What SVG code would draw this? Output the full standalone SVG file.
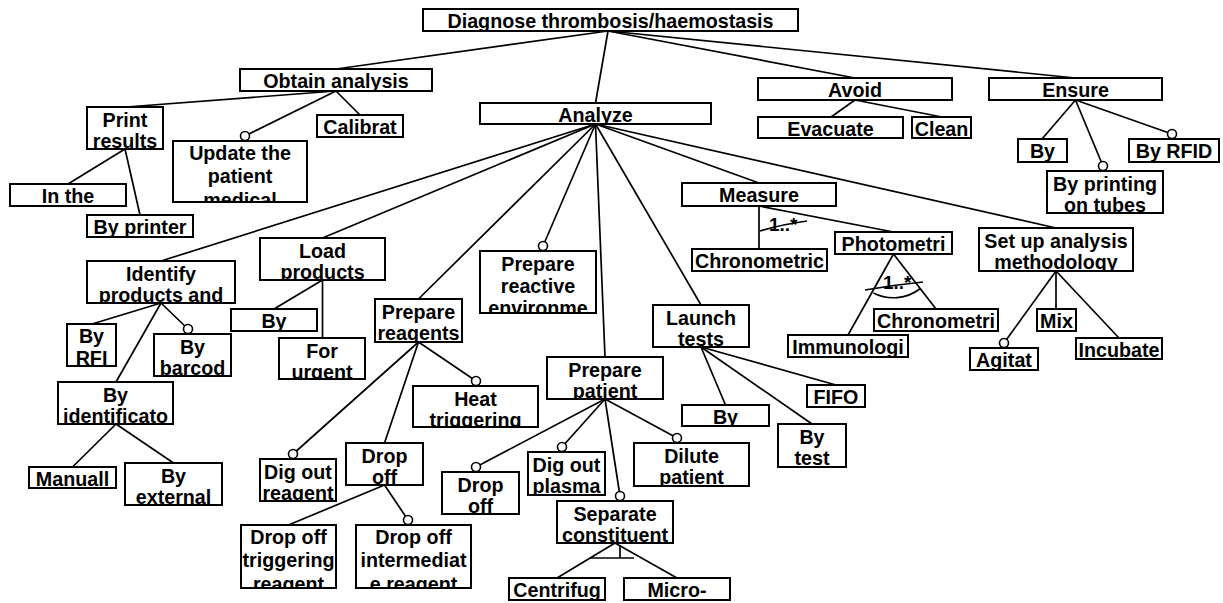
<svg xmlns="http://www.w3.org/2000/svg" width="1223" height="603" viewBox="0 0 1223 603">
  <style>
    .box { fill: #fff; stroke: #000; stroke-width: 2; }
    .lbl { font-family: "Liberation Sans", Arial, sans-serif; font-weight: bold; font-size: 19.7px; text-anchor: middle; fill: #000; }
    .card { font-family: "Liberation Sans", Arial, sans-serif; font-weight: bold; font-size: 19px; fill: #000; }
    #connectors line, #connectors path { stroke: #000; stroke-width: 1.7; fill: none; }
    .opt { marker-end: url(#opt); }
  </style>
  <defs>
    <!-- optional feature: hollow circle at the child end -->
    <marker id="opt" viewBox="0 0 12 12" refX="6" refY="6" markerWidth="12" markerHeight="12" markerUnits="userSpaceOnUse">
      <circle cx="6" cy="6" r="4.5" fill="#fff" stroke="#000" stroke-width="1.6"/>
    </marker>
  </defs>
  <rect width="1223" height="603" fill="#fff"/>

  <g id="connectors">
    <!-- root -->
    <line x1="608" y1="31" x2="336" y2="69"/>
    <line x1="608" y1="31" x2="595.5" y2="103"/>
    <line x1="608" y1="31" x2="855" y2="78"/>
    <line x1="608" y1="31" x2="1075.5" y2="78"/>
    <!-- Obtain analysis -->
    <line x1="336" y1="91" x2="126" y2="107"/>
    <line class="opt" x1="336" y1="91" x2="245" y2="136"/>
    <line x1="336" y1="91" x2="360" y2="115"/>
    <!-- Print results -->
    <line x1="125" y1="149" x2="68" y2="184"/>
    <line x1="125" y1="149" x2="140" y2="215"/>
    <!-- Avoid -->
    <line x1="855" y1="100" x2="831" y2="117"/>
    <line x1="855" y1="100" x2="942" y2="117"/>
    <!-- Ensure -->
    <line x1="1075.5" y1="100" x2="1042" y2="139"/>
    <line class="opt" x1="1075.5" y1="100" x2="1172" y2="134"/>
    <line class="opt" x1="1075.5" y1="100" x2="1103" y2="166"/>
    <!-- Analyze -->
    <line x1="595.5" y1="124" x2="161" y2="261"/>
    <line x1="595.5" y1="124" x2="322.5" y2="238"/>
    <line x1="595.5" y1="124" x2="418.5" y2="299"/>
    <line class="opt" x1="595.5" y1="124" x2="543" y2="246"/>
    <line x1="595.5" y1="124" x2="605" y2="357"/>
    <line x1="595.5" y1="124" x2="701" y2="305"/>
    <line x1="595.5" y1="124" x2="759" y2="183"/>
    <line x1="595.5" y1="124" x2="1056" y2="228"/>
    <!-- Identify products and -->
    <line x1="161" y1="303" x2="92" y2="324"/>
    <line class="opt" x1="161" y1="303" x2="188" y2="329"/>
    <line x1="161" y1="303" x2="116" y2="382"/>
    <!-- By identificato -->
    <line x1="116" y1="424" x2="72.5" y2="467"/>
    <line x1="116" y1="424" x2="173.5" y2="463"/>
    <!-- Load products -->
    <line x1="322.5" y1="280" x2="274" y2="309"/>
    <line x1="322.5" y1="280" x2="322.5" y2="338"/>
    <!-- Prepare reagents -->
    <line class="opt" x1="418.5" y1="342" x2="476" y2="381"/>
    <line class="opt" x1="418.5" y1="342" x2="293" y2="454"/>
    <line x1="418.5" y1="342" x2="384.5" y2="443"/>
    <!-- Drop off (reagents) -->
    <line x1="384.5" y1="485" x2="288.5" y2="525"/>
    <line class="opt" x1="384.5" y1="485" x2="408" y2="520"/>
    <!-- Prepare patient -->
    <line class="opt" x1="605" y1="399" x2="476" y2="467"/>
    <line class="opt" x1="605" y1="399" x2="562" y2="447"/>
    <line class="opt" x1="605" y1="399" x2="677" y2="438"/>
    <line class="opt" x1="605" y1="399" x2="620" y2="496"/>
    <!-- Separate constituent -->
    <line x1="615" y1="543" x2="557" y2="578"/>
    <line x1="615" y1="543" x2="677" y2="578"/>
    <line x1="590" y1="558" x2="634" y2="558"/>
    <line x1="620" y1="545" x2="620" y2="558"/>
    <!-- Launch tests -->
    <line x1="701" y1="347" x2="725.5" y2="405"/>
    <line x1="701" y1="347" x2="812" y2="424"/>
    <line x1="701" y1="347" x2="836" y2="385"/>
    <!-- Measure -->
    <line x1="759" y1="206" x2="759" y2="249"/>
    <line x1="759" y1="206" x2="893.5" y2="232"/>
    <path d="M760,231 Q784,224 807,221"/>
    <text class="card" x="769" y="231">1..*</text>
    <!-- Photometri -->
    <line x1="893.5" y1="254" x2="848" y2="335"/>
    <line x1="893.5" y1="254" x2="936" y2="309"/>
    <path d="M873.4,292.9 A44,44 0 0 0 920.1,288.7"/>
    <path d="M865,290 Q894,285 923,282"/>
    <text class="card" x="883" y="289">1..*</text>
    <!-- Set up analysis methodology -->
    <line class="opt" x1="1056" y1="271" x2="1004" y2="343"/>
    <line x1="1056" y1="271" x2="1056" y2="309"/>
    <line x1="1056" y1="271" x2="1119" y2="338"/>
  </g>

  <g id="n-root"><rect class="box" x="423" y="9" width="375" height="22"/><svg x="423" y="9" width="375" height="22"><text class="lbl" x="187.5" y="18.5">Diagnose thrombosis/haemostasis</text></svg></g>
  <g id="n-obtain"><rect class="box" x="240" y="69" width="192" height="22"/><svg x="240" y="69" width="192" height="22"><text class="lbl" x="96" y="18.5">Obtain analysis</text></svg></g>
  <g id="n-analyze"><rect class="box" x="480" y="103" width="231" height="21"/><svg x="480" y="103" width="231" height="21"><text class="lbl" x="115.5" y="18.5">Analyze</text></svg></g>
  <g id="n-avoid"><rect class="box" x="758" y="78" width="194" height="22"/><svg x="758" y="78" width="194" height="22"><text class="lbl" x="97" y="18.5">Avoid</text></svg></g>
  <g id="n-ensure"><rect class="box" x="989" y="78" width="173" height="22"/><svg x="989" y="78" width="173" height="22"><text class="lbl" x="86.5" y="18.5">Ensure</text></svg></g>

  <g id="n-print"><rect class="box" x="87" y="107" width="76" height="42"/><svg x="87" y="107" width="76" height="42"><text class="lbl" x="38" y="19.5">Print</text><text class="lbl" x="38" y="41">results</text></svg></g>
  <g id="n-update"><rect class="box" x="173" y="141" width="134" height="61"/><svg x="173" y="141" width="134" height="61"><text class="lbl" x="67" y="18.5">Update the</text><text class="lbl" x="67" y="41.5">patient</text><text class="lbl" x="67" y="65.5">medical</text></svg></g>
  <g id="n-calibrat"><rect class="box" x="317" y="115" width="86" height="22"/><svg x="317" y="115" width="86" height="22"><text class="lbl" x="43" y="18.5">Calibrat</text></svg></g>
  <g id="n-inthe"><rect class="box" x="10" y="184" width="116" height="22"/><svg x="10" y="184" width="116" height="22"><text class="lbl" x="58" y="18.5">In the</text></svg></g>
  <g id="n-byprinter"><rect class="box" x="87" y="215" width="106" height="22"/><svg x="87" y="215" width="106" height="22"><text class="lbl" x="53" y="18.5">By printer</text></svg></g>

  <g id="n-evacuate"><rect class="box" x="758" y="117" width="145" height="21"/><svg x="758" y="117" width="145" height="21"><text class="lbl" x="72.5" y="18.5">Evacuate</text></svg></g>
  <g id="n-clean"><rect class="box" x="912" y="117" width="59" height="21"/><svg x="912" y="117" width="59" height="21"><text class="lbl" x="29.5" y="18.5">Clean</text></svg></g>

  <g id="n-ensure-by"><rect class="box" x="1018" y="139" width="49" height="23"/><svg x="1018" y="139" width="49" height="23"><text class="lbl" x="24.5" y="18.5">By</text></svg></g>
  <g id="n-by-rfid"><rect class="box" x="1129" y="139" width="90" height="23"/><svg x="1129" y="139" width="90" height="23"><text class="lbl" x="45" y="18.5">By RFID</text></svg></g>
  <g id="n-by-printing"><rect class="box" x="1047" y="171" width="116" height="42"/><svg x="1047" y="171" width="116" height="42"><text class="lbl" x="58" y="19.5">By printing</text><text class="lbl" x="58" y="41">on tubes</text></svg></g>

  <g id="n-identify"><rect class="box" x="87" y="261" width="148" height="42"/><svg x="87" y="261" width="148" height="42"><text class="lbl" x="74" y="19.5">Identify</text><text class="lbl" x="74" y="41">products and</text></svg></g>
  <g id="n-load"><rect class="box" x="260" y="238" width="125" height="42"/><svg x="260" y="238" width="125" height="42"><text class="lbl" x="62.5" y="19.5">Load</text><text class="lbl" x="62.5" y="41">products</text></svg></g>
  <g id="n-prep-reagents"><rect class="box" x="375" y="299" width="87" height="43"/><svg x="375" y="299" width="87" height="43"><text class="lbl" x="43.5" y="19.5">Prepare</text><text class="lbl" x="43.5" y="41">reagents</text></svg></g>
  <g id="n-prep-reactive"><rect class="box" x="480" y="251" width="116" height="62"/><svg x="480" y="251" width="116" height="62"><text class="lbl" x="58" y="19.5">Prepare</text><text class="lbl" x="58" y="41.5">reactive</text><text class="lbl" x="58" y="64">environme</text></svg></g>
  <g id="n-prep-patient"><rect class="box" x="547" y="357" width="116" height="42"/><svg x="547" y="357" width="116" height="42"><text class="lbl" x="58" y="19.5">Prepare</text><text class="lbl" x="58" y="41">patient</text></svg></g>
  <g id="n-launch"><rect class="box" x="653" y="305" width="96" height="42"/><svg x="653" y="305" width="96" height="42"><text class="lbl" x="48" y="19.5">Launch</text><text class="lbl" x="48" y="41">tests</text></svg></g>
  <g id="n-measure"><rect class="box" x="682" y="183" width="154" height="23"/><svg x="682" y="183" width="154" height="23"><text class="lbl" x="77" y="18.5">Measure</text></svg></g>
  <g id="n-setup"><rect class="box" x="979" y="228" width="154" height="43"/><svg x="979" y="228" width="154" height="43"><text class="lbl" x="77" y="19.5">Set up analysis</text><text class="lbl" x="77" y="41">methodology</text></svg></g>

  <g id="n-chronometric"><rect class="box" x="692" y="249" width="135" height="22"/><svg x="692" y="249" width="135" height="22"><text class="lbl" x="67.5" y="18.5">Chronometric</text></svg></g>
  <g id="n-photometri"><rect class="box" x="835" y="232" width="117" height="22"/><svg x="835" y="232" width="117" height="22"><text class="lbl" x="58.5" y="18.5">Photometri</text></svg></g>
  <g id="n-immunologi"><rect class="box" x="788" y="335" width="120" height="22"/><svg x="788" y="335" width="120" height="22"><text class="lbl" x="60" y="18.5">Immunologi</text></svg></g>
  <g id="n-chronometri"><rect class="box" x="874" y="309" width="124" height="22"/><svg x="874" y="309" width="124" height="22"><text class="lbl" x="62" y="18.5">Chronometri</text></svg></g>

  <g id="n-agitat"><rect class="box" x="970" y="348" width="68" height="22"/><svg x="970" y="348" width="68" height="22"><text class="lbl" x="34" y="18.5">Agitat</text></svg></g>
  <g id="n-mix"><rect class="box" x="1037" y="309" width="39" height="22"/><svg x="1037" y="309" width="39" height="22"><text class="lbl" x="19.5" y="18.5">Mix</text></svg></g>
  <g id="n-incubate"><rect class="box" x="1076" y="338" width="86" height="21"/><svg x="1076" y="338" width="86" height="21"><text class="lbl" x="43" y="18.5">Incubate</text></svg></g>

  <g id="n-by-rfi"><rect class="box" x="67" y="324" width="49" height="42"/><svg x="67" y="324" width="49" height="42"><text class="lbl" x="24.5" y="19">By</text><text class="lbl" x="24.5" y="41">RFI</text></svg></g>
  <g id="n-by-barcod"><rect class="box" x="154" y="334" width="77" height="42"/><svg x="154" y="334" width="77" height="42"><text class="lbl" x="38.5" y="19.5">By</text><text class="lbl" x="38.5" y="41">barcod</text></svg></g>
  <g id="n-by-ident"><rect class="box" x="58" y="382" width="115" height="42"/><svg x="58" y="382" width="115" height="42"><text class="lbl" x="57.5" y="19.5">By</text><text class="lbl" x="57.5" y="41">identificato</text></svg></g>
  <g id="n-manuall"><rect class="box" x="29" y="467" width="87" height="21"/><svg x="29" y="467" width="87" height="21"><text class="lbl" x="43.5" y="18.5">Manuall</text></svg></g>
  <g id="n-by-external"><rect class="box" x="125" y="463" width="97" height="42"/><svg x="125" y="463" width="97" height="42"><text class="lbl" x="48.5" y="19.5">By</text><text class="lbl" x="48.5" y="41">external</text></svg></g>

  <g id="n-load-by"><rect class="box" x="231" y="309" width="86" height="22"/><svg x="231" y="309" width="86" height="22"><text class="lbl" x="43" y="18.5">By</text></svg></g>
  <g id="n-for-urgent"><rect class="box" x="279" y="338" width="86" height="41"/><svg x="279" y="338" width="86" height="41"><text class="lbl" x="43" y="19.5">For</text><text class="lbl" x="43" y="41">urgent</text></svg></g>

  <g id="n-heat"><rect class="box" x="413" y="386" width="125" height="41"/><svg x="413" y="386" width="125" height="41"><text class="lbl" x="62.5" y="19.5">Heat</text><text class="lbl" x="62.5" y="41">triggering</text></svg></g>
  <g id="n-dig-reagent"><rect class="box" x="260" y="459" width="76" height="42"/><svg x="260" y="459" width="76" height="42"><text class="lbl" x="38" y="19.5">Dig out</text><text class="lbl" x="38" y="41">reagent</text></svg></g>
  <g id="n-drop-off-1"><rect class="box" x="346" y="443" width="77" height="42"/><svg x="346" y="443" width="77" height="42"><text class="lbl" x="38.5" y="19.5">Drop</text><text class="lbl" x="38.5" y="41">off</text></svg></g>
  <g id="n-drop-trig"><rect class="box" x="241" y="525" width="95" height="63"/><svg x="241" y="525" width="95" height="63"><text class="lbl" x="47.5" y="19">Drop off</text><text class="lbl" x="47.5" y="42">triggering</text><text class="lbl" x="47.5" y="65.5">reagent</text></svg></g>
  <g id="n-drop-inter"><rect class="box" x="356" y="525" width="115" height="63"/><svg x="356" y="525" width="115" height="63"><text class="lbl" x="57.5" y="19">Drop off</text><text class="lbl" x="57.5" y="42">intermediat</text><text class="lbl" x="57.5" y="65.5">e reagent</text></svg></g>

  <g id="n-drop-off-2"><rect class="box" x="442" y="472" width="77" height="42"/><svg x="442" y="472" width="77" height="42"><text class="lbl" x="38.5" y="19.5">Drop</text><text class="lbl" x="38.5" y="41">off</text></svg></g>
  <g id="n-dig-plasma"><rect class="box" x="528" y="452" width="77" height="43"/><svg x="528" y="452" width="77" height="43"><text class="lbl" x="38.5" y="19.5">Dig out</text><text class="lbl" x="38.5" y="41">plasma</text></svg></g>
  <g id="n-dilute"><rect class="box" x="634" y="443" width="115" height="43"/><svg x="634" y="443" width="115" height="43"><text class="lbl" x="57.5" y="19.5">Dilute</text><text class="lbl" x="57.5" y="41">patient</text></svg></g>
  <g id="n-separate"><rect class="box" x="557" y="501" width="116" height="42"/><svg x="557" y="501" width="116" height="42"><text class="lbl" x="58" y="19.5">Separate</text><text class="lbl" x="58" y="41">constituent</text></svg></g>
  <g id="n-centrifug"><rect class="box" x="509" y="578" width="96" height="22"/><svg x="509" y="578" width="96" height="22"><text class="lbl" x="48" y="18.5">Centrifug</text></svg></g>
  <g id="n-micro"><rect class="box" x="624" y="578" width="106" height="22"/><svg x="624" y="578" width="106" height="22"><text class="lbl" x="53" y="18.5">Micro-</text></svg></g>

  <g id="n-launch-by"><rect class="box" x="682" y="405" width="87" height="21"/><svg x="682" y="405" width="87" height="21"><text class="lbl" x="43.5" y="18.5">By</text></svg></g>
  <g id="n-by-test"><rect class="box" x="778" y="424" width="68" height="43"/><svg x="778" y="424" width="68" height="43"><text class="lbl" x="34" y="19.5">By</text><text class="lbl" x="34" y="41">test</text></svg></g>
  <g id="n-fifo"><rect class="box" x="807" y="385" width="58" height="22"/><svg x="807" y="385" width="58" height="22"><text class="lbl" x="29" y="18.5">FIFO</text></svg></g>
</svg>
